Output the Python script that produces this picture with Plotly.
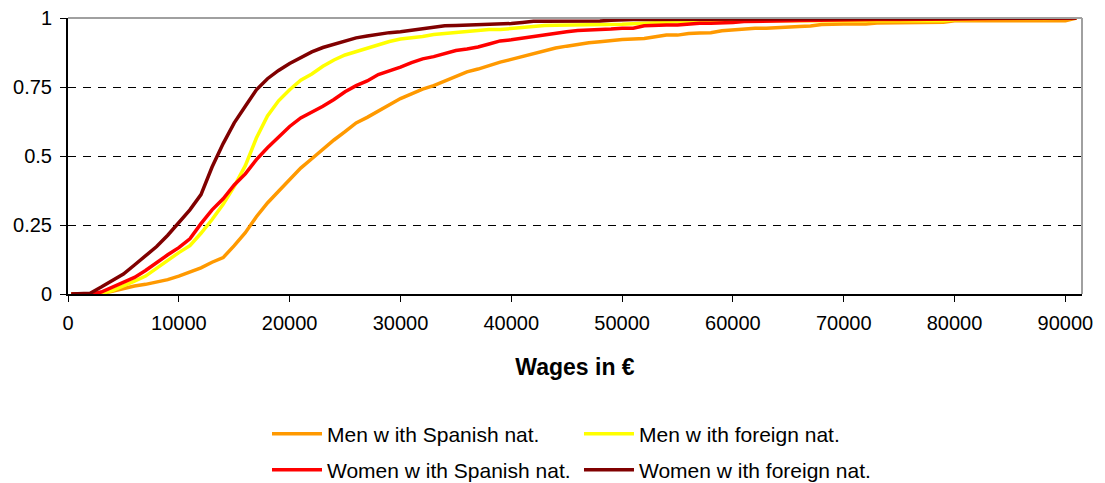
import plotly.graph_objects as go

# wage grid (euros)
wages = [300, 1000, 2000, 3000, 4000, 5000, 6000, 7000, 8000, 9000,
         10000, 11000, 12000, 13000, 14000, 15000, 16000, 17000, 18000, 19000,
         20000, 21000, 22000, 23000, 24000, 25000, 26000, 27000, 28000, 29000,
         30000, 31000, 32000, 33000, 34000, 35000, 36000, 37000, 38000, 39000,
         40000, 41000, 42000, 43000, 44000, 45000, 46000, 47000, 48000, 49000,
         50000, 51000, 52000, 53000, 54000, 55000, 56000, 57000, 58000, 59000,
         60000, 61000, 62000, 63000, 64000, 65000, 66000, 67000, 68000, 70000,
         72000, 73000, 75000, 78000, 79000, 80000, 82000, 85000, 88000, 90000,
         91000]

men_spanish = [0, 0, 0, 0.002, 0.010, 0.021, 0.029, 0.035, 0.042, 0.052,
               0.065, 0.079, 0.095, 0.115, 0.132, 0.175, 0.222, 0.280, 0.330, 0.372,
               0.414, 0.456, 0.490, 0.525, 0.558, 0.588, 0.620, 0.640, 0.663, 0.684,
               0.708, 0.725, 0.742, 0.755, 0.772, 0.790, 0.805, 0.815, 0.828, 0.840,
               0.850, 0.860, 0.873, 0.883, 0.891, 0.898, 0.905, 0.910, 0.914, 0.919,
               0.922, 0.924, 0.926, 0.932, 0.938, 0.938, 0.944, 0.946, 0.947, 0.954,
               0.957, 0.962, 0.963, 0.963, 0.966, 0.968, 0.969, 0.971, 0.976, 0.978,
               0.978, 0.982, 0.983, 0.983, 0.985, 0.990, 0.990, 0.990, 0.990, 0.990,
               1.0]

men_foreign = [0, 0, 0, 0.002, 0.012, 0.028, 0.047, 0.065, 0.093, 0.124,
               0.150, 0.175, 0.220, 0.270, 0.325, 0.390, 0.465, 0.565, 0.645, 0.700,
               0.740, 0.775, 0.797, 0.825, 0.848, 0.866, 0.879, 0.890, 0.902, 0.915,
               0.924, 0.928, 0.933, 0.940, 0.944, 0.947, 0.950, 0.955, 0.958, 0.958,
               0.962, 0.967, 0.972, 0.973, 0.974, 0.974, 0.975, 0.975, 0.975, 0.976,
               0.977, 0.979, 0.981, 0.982, 0.983, 0.984, 0.988, 0.990, 0.990, 0.990,
               0.990, 0.990, 0.990, 0.990, 0.990, 0.990, 0.990, 0.990, 0.990, 0.990,
               0.990, 0.990, 0.990, 0.990, 0.990, 0.994, 0.995, 0.996, 0.997, 0.997,
               1.0]

women_spanish = [0, 0, 0, 0.007, 0.025, 0.045, 0.060, 0.085, 0.115, 0.142,
                 0.168, 0.200, 0.255, 0.305, 0.345, 0.395, 0.435, 0.487, 0.530, 0.570,
                 0.607, 0.638, 0.658, 0.680, 0.705, 0.733, 0.755, 0.772, 0.795, 0.808,
                 0.822, 0.838, 0.852, 0.860, 0.870, 0.882, 0.888, 0.895, 0.906, 0.917,
                 0.921, 0.927, 0.935, 0.940, 0.944, 0.950, 0.955, 0.956, 0.957, 0.960,
                 0.963, 0.963, 0.972, 0.975, 0.975, 0.975, 0.979, 0.981, 0.981, 0.981,
                 0.984, 0.987, 0.987, 0.987, 0.988, 0.990, 0.991, 0.992, 0.993, 0.994,
                 0.995, 0.995, 0.995, 0.996, 0.996, 0.996, 0.996, 0.997, 0.997, 0.997,
                 1.0]

women_foreign = [0, 0, 0.003, 0.025, 0.047, 0.072, 0.105, 0.138, 0.172, 0.213,
                 0.257, 0.305, 0.360, 0.460, 0.545, 0.620, 0.680, 0.740, 0.780, 0.810,
                 0.835, 0.857, 0.877, 0.893, 0.905, 0.918, 0.928, 0.935, 0.942, 0.947,
                 0.950, 0.955, 0.962, 0.965, 0.972, 0.973, 0.974, 0.978, 0.979, 0.979,
                 0.980, 0.984, 0.988, 0.988, 0.988, 0.988, 0.989, 0.989, 0.989, 0.992,
                 0.995, 0.995, 0.995, 0.995, 0.996, 0.996, 0.996, 0.996, 0.996, 0.997,
                 0.997, 0.997, 0.997, 0.997, 0.997, 0.998, 0.998, 0.998, 0.998, 0.998,
                 0.998, 0.998, 0.998, 0.998, 0.998, 0.998, 0.999, 0.999, 0.999, 0.999,
                 1.0]

y_ticks = [0, 0.25, 0.5, 0.75, 1]
y_labels = ['0', '0.25', '0.5', '0.75', '1']

# name, values, colour, legend id, legend x, legend y (container)
series = [
    ('Men w ith Spanish nat.', men_spanish, '#FF9900', 'legend', 0.2361, 0.1032),
    ('Men w ith foreign nat.', men_foreign, '#FFFF00', 'legend2', 0.5205, 0.1032),
    ('Women w ith Spanish nat.', women_spanish, '#FF0000', 'legend3', 0.2361, 0.0274),
    ('Women w ith foreign nat.', women_foreign, '#800000', 'legend4', 0.5205, 0.0274),
]

FONT = 'Liberation Sans, Arial, sans-serif'

fig = go.Figure()

legends = {}
for name, vals, color, leg, lx, ly in series:
    fig.add_trace(
        go.Scatter(
            x=wages,
            y=vals,
            name=name,
            mode='lines',
            line=dict(color=color, width=3.5),
            legend=leg
        )
    )
    legends[leg] = dict(
        x=lx, y=ly,
        xref='container',
        yref='container',
        orientation='h',
        xanchor='left',
        yanchor='middle',
        font=dict(family=FONT, size=21, color='black'),
        bgcolor='rgba(0,0,0,0)',
        itemwidth=50,
    )

# grey frame on top and right like the original
fig.add_shape(type='line', xref='paper', yref='paper', x0=0, x1=1, y0=1, y1=1,
              line=dict(color='#A0A0A0', width=2))
fig.add_shape(type='line', xref='paper', yref='paper', x0=1, x1=1, y0=0, y1=1,
              line=dict(color='#A0A0A0', width=2))

# page body has an 8px margin, so the figure is a bit smaller than the window
fig.update_layout(
    width=1097,
    height=475,
    margin=dict(l=60, r=23, t=10, b=189),
    paper_bgcolor='white',
    plot_bgcolor='white',
    font=dict(family=FONT, size=19, color='black'),
    showlegend=True,
    **legends
)

fig.update_xaxes(
    range=[0, 91500],
    dtick=10000,
    tick0=0,
    tickformat='d',
    ticks='outside',
    ticklen=6,
    tickcolor='black',
    showline=True,
    linecolor='black',
    linewidth=2,
    showgrid=False,
    zeroline=False,
    automargin=False,
    ticklabeloverflow='allow',
    ticklabelstandoff=4,
    tickfont=dict(family=FONT, size=20),
    title=dict(text='<b>Wages in €</b>', font=dict(family=FONT, size=23), standoff=26)
)

fig.update_yaxes(
    range=[0, 1],
    tickvals=y_ticks,
    ticktext=y_labels,
    ticks='outside',
    ticklen=6,
    tickcolor='black',
    showline=True,
    linecolor='black',
    linewidth=2,
    showgrid=True,
    gridcolor='black',
    gridwidth=1,
    griddash='8px,7px',
    zeroline=False,
    automargin=False,
    ticklabeloverflow='allow',
    ticklabelstandoff=4,
    tickfont=dict(family=FONT, size=20)
)

fig.write_html("out.html")
